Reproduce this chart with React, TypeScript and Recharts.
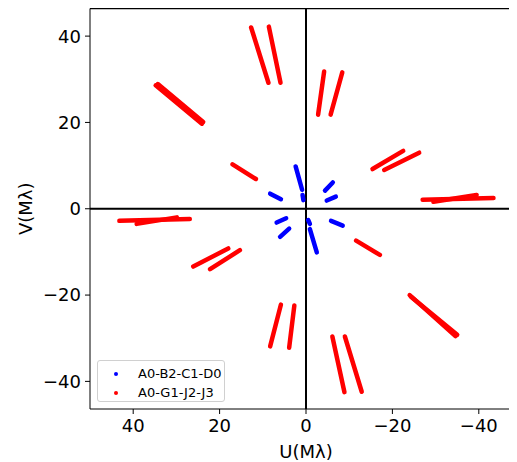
import { ScatterChart, Scatter, XAxis, YAxis, ReferenceLine } from "recharts";

type Track = [number, number, number, number];

// UV tracks as [u1, v1, u2, v2] in Mλ
const blueTracks: Track[] = [
  [2.4, 9.8, 0.9, 4.4],
  [-0.9, -4.7, -2.5, -10.1],
  [8.3, 3.5, 5.8, 2.2],
  [-5.8, -2.8, -8.5, -3.9],
  [0.8, 3.2, 0.6, 2.0],
  [-0.5, -2.6, -0.9, -3.5],
  [-4.4, 4.2, -6.2, 6.1],
  [6.0, -6.5, 3.9, -4.6],
  [-4.8, 1.9, -6.9, 2.8],
  [6.8, -3.2, 4.6, -2.2],
];

const redTracks: Track[] = [
  [12.7, 42.0, 8.7, 29.2],
  [8.6, 42.2, 5.9, 29.2],
  [-6.1, -29.6, -8.9, -42.5],
  [-9.0, -29.6, -12.9, -42.4],
  [-4.2, 31.8, -2.8, 21.8],
  [-8.4, 31.6, -5.7, 21.8],
  [5.8, -22.2, 8.3, -31.9],
  [2.7, -22.4, 3.9, -32.2],
  [34.8, 28.6, 24.1, 19.7],
  [34.3, 28.9, 23.8, 20.1],
  [-24.3, -20.4, -35.0, -29.2],
  [-24.0, -20.0, -34.6, -29.5],
  [17.0, 10.3, 11.6, 6.9],
  [-11.6, -7.4, -17.1, -10.7],
  [-15.4, 9.2, -22.5, 13.4],
  [-18.1, 9.0, -26.2, 13.0],
  [26.1, -13.4, 18.0, -9.2],
  [22.2, -14.0, 15.3, -9.6],
  [-27.0, 2.1, -43.4, 2.5],
  [-29.5, 1.6, -39.5, 3.2],
  [43.2, -2.8, 26.9, -2.4],
  [39.2, -3.5, 29.9, -2.0],
];

const xTicks = [40, 20, 0, -20, -40];
const yTicks = [-40, -20, 0, 20, 40];
const xDomain = [-50, 50];
const yDomain = [-46.4, 46.4];

const series = [
  { name: "A0-B2-C1-D0", color: "#0000ff", tracks: blueTracks },
  { name: "A0-G1-J2-J3", color: "#ff0000", tracks: redTracks },
];

const font = "'DejaVu Sans', sans-serif";
const noDot = () => <g />;
const fmt = (v: number) => String(v).replace("-", "\u2212");

function YLabel(props: any) {
  const { viewBox } = props;
  const cy = viewBox.y + viewBox.height / 2;
  return (
    <text
      x={17}
      y={cy}
      transform={`rotate(-90, 17, ${cy})`}
      textAnchor="middle"
      dominantBaseline="central"
      fontSize={18}
      fontFamily={font}
      fill="#000"
    >
      V(Mλ)
    </text>
  );
}

export default function App() {
  return (
    <div style={{ position: "relative", width: 509, height: 454, overflow: "hidden" }}>
      <ScatterChart width={514} height={454} margin={{ top: 0.5, right: 0, bottom: 0, left: 0 }}>
        <XAxis
          type="number"
          dataKey="u"
          domain={xDomain}
          reversed
          ticks={xTicks}
          tickFormatter={fmt}
          allowDataOverflow
          height={53}
          stroke="#000"
          tickSize={5}
          tickMargin={5}
          tick={{ fill: "#000", fontSize: 18, fontFamily: font }}
          label={{ value: "U(Mλ)", position: "insideBottom", offset: 4, fill: "#000", fontSize: 18, fontFamily: font }}
        />
        <YAxis
          type="number"
          dataKey="v"
          domain={yDomain}
          ticks={yTicks}
          tickFormatter={fmt}
          allowDataOverflow
          width={82}
          stroke="#000"
          tickSize={5}
          tickMargin={4}
          tick={{ fill: "#000", fontSize: 18, fontFamily: font }}
          label={<YLabel />}
        />
        <ReferenceLine y={yDomain[1]} stroke="#000" strokeWidth={1.3} />
        <ReferenceLine x={0} stroke="#000" strokeWidth={2} />
        <ReferenceLine y={0} stroke="#000" strokeWidth={2} />
        {series.map((s) =>
          s.tracks.map((t, i) => (
            <Scatter
              key={s.name + i}
              name={s.name}
              data={[
                { u: t[0], v: t[1] },
                { u: t[2], v: t[3] },
              ]}
              fill={s.color}
              line={{ stroke: s.color, strokeWidth: 4.5, strokeLinecap: "round" }}
              shape={noDot}
              legendType="none"
              isAnimationActive={false}
            />
          ))
        )}
      </ScatterChart>
      <div
        style={{
          position: "absolute",
          left: 89,
          top: 352,
          width: 128,
          height: 42,
          border: "1px solid #d0d0d0",
          borderRadius: 3,
          background: "rgba(255,255,255,0.8)",
          fontFamily: font,
          fontSize: 13,
          color: "#000",
          boxSizing: "border-box",
        }}
      >
        {series.map((s, i) => (
          <div
            key={s.name}
            style={{ position: "absolute", left: 0, top: 4 + i * 19, height: 17, display: "flex", alignItems: "center" }}
          >
            <span
              style={{
                position: "absolute",
                left: 16,
                width: 4,
                height: 4,
                borderRadius: 2,
                background: s.color,
              }}
            />
            <span style={{ position: "absolute", left: 40, whiteSpace: "nowrap" }}>{s.name}</span>
          </div>
        ))}
      </div>
    </div>
  );
}
